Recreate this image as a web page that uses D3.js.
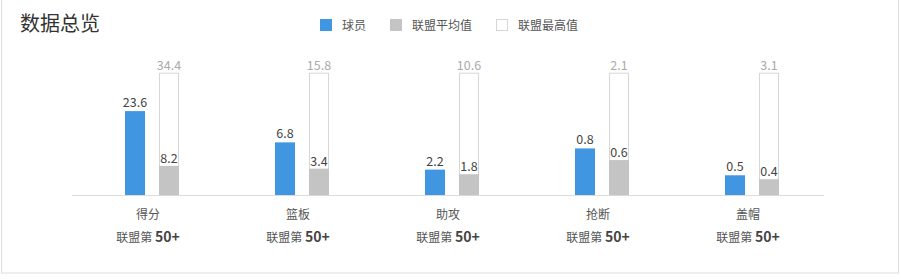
<!DOCTYPE html>
<html>
<head>
<meta charset="utf-8">
<script src="https://d3js.org/d3.v7.min.js"></script>
<style>
  body { margin: 0; background: #fff; }
  svg { display: block; font-family: "Microsoft YaHei", "Noto Sans CJK SC", sans-serif; }
</style>
</head>
<body>
<svg width="901" height="279"></svg>
<script>
  // data
  const categories = ['得分', '篮板', '助攻', '抢断', '盖帽'];
  const player = [23.6, 6.8, 2.2, 0.8, 0.5];
  const leagueAvg = [8.2, 3.4, 1.8, 0.6, 0.4];
  const leagueMax = [34.4, 15.8, 10.6, 2.1, 3.1];
  const ranks = ['50+', '50+', '50+', '50+', '50+'];
  const legendLabels = ['球员', '联盟平均值', '联盟最高值'];

  const blue = '#4196e1';
  const gray = '#c4c4c4';

  const svg = d3.select('svg');

  // frame
  svg.append('rect')
    .attr('x', 1.5).attr('y', -10)
    .attr('width', 897).attr('height', 283)
    .attr('fill', 'none')
    .attr('stroke', '#dedede');

  // title
  svg.append('text')
    .attr('x', 20).attr('y', 31)
    .attr('font-size', 20)
    .attr('fill', '#333')
    .text('数据总览');

  // legend
  const legendFill = [blue, gray, '#fff'];
  const legendStroke = ['none', 'none', '#d6d6d6'];
  let lx = 320;
  legendLabels.forEach(function(label, i) {
    svg.append('rect')
      .attr('x', i == 2 ? lx + 0.5 : lx).attr('y', i == 2 ? 19.5 : 19)
      .attr('width', i == 2 ? 11 : 12).attr('height', i == 2 ? 11 : 12)
      .attr('fill', legendFill[i])
      .attr('stroke', legendStroke[i]);
    const t = svg.append('text')
      .attr('x', lx + 22).attr('y', 29.5)
      .attr('font-size', 12)
      .attr('fill', '#555')
      .text(label);
    lx += 22 + t.node().getComputedTextLength() + 24;
  });

  // scales
  const baseY = 195;
  const topY = 72.7;
  const x = d3.scaleBand().domain(categories).range([72, 822]);
  const barW = 20;

  // axis line
  svg.append('line')
    .attr('x1', 72).attr('x2', 824)
    .attr('y1', baseY + 0.5).attr('y2', baseY + 0.5)
    .attr('stroke', '#dcdcdc');

  categories.forEach(function(c, i) {
    const cx = x(c) + x.bandwidth() / 2;
    const y = d3.scaleLinear().domain([0, leagueMax[i]]).range([baseY, topY]);
    const bx = Math.round(cx - 22);
    const gx = Math.round(cx + 12);

    // league max (outline)
    svg.append('rect')
      .attr('x', gx + 0.5).attr('y', y(leagueMax[i]) + 0.5)
      .attr('width', barW - 1).attr('height', baseY - y(leagueMax[i]) - 0.5)
      .attr('fill', '#fff')
      .attr('stroke', '#d6d6d6');

    // league avg
    svg.append('rect')
      .attr('x', gx).attr('y', y(leagueAvg[i]))
      .attr('width', barW).attr('height', baseY - y(leagueAvg[i]))
      .attr('fill', gray);

    // player
    svg.append('rect')
      .attr('x', bx).attr('y', y(player[i]))
      .attr('width', barW).attr('height', baseY - y(player[i]))
      .attr('fill', blue);

    // value labels
    svg.append('text')
      .attr('x', bx + barW / 2).attr('y', y(player[i]) - 4)
      .attr('text-anchor', 'middle').attr('font-size', 12.5)
      .attr('fill', '#444')
      .text(player[i]);
    svg.append('text')
      .attr('x', gx + barW / 2).attr('y', y(leagueAvg[i]) - 3)
      .attr('text-anchor', 'middle').attr('font-size', 12.5)
      .attr('fill', '#444')
      .text(leagueAvg[i]);
    svg.append('text')
      .attr('x', gx + barW / 2).attr('y', y(leagueMax[i]) - 3)
      .attr('text-anchor', 'middle').attr('font-size', 12.5)
      .attr('fill', '#aaa')
      .text(leagueMax[i]);

    // category label
    svg.append('text')
      .attr('x', cx + 1).attr('y', 219)
      .attr('text-anchor', 'middle').attr('font-size', 12)
      .attr('fill', '#555')
      .text(c);

    // rank
    const r = svg.append('text')
      .attr('x', cx + 1).attr('y', 242)
      .attr('text-anchor', 'middle')
      .attr('fill', '#555');
    r.append('tspan').attr('font-size', 12).text('联盟第 ');
    r.append('tspan').attr('font-size', 14).attr('font-weight', 'bold')
      .attr('fill', '#444').text(ranks[i]);
  });
</script>
</body>
</html>
